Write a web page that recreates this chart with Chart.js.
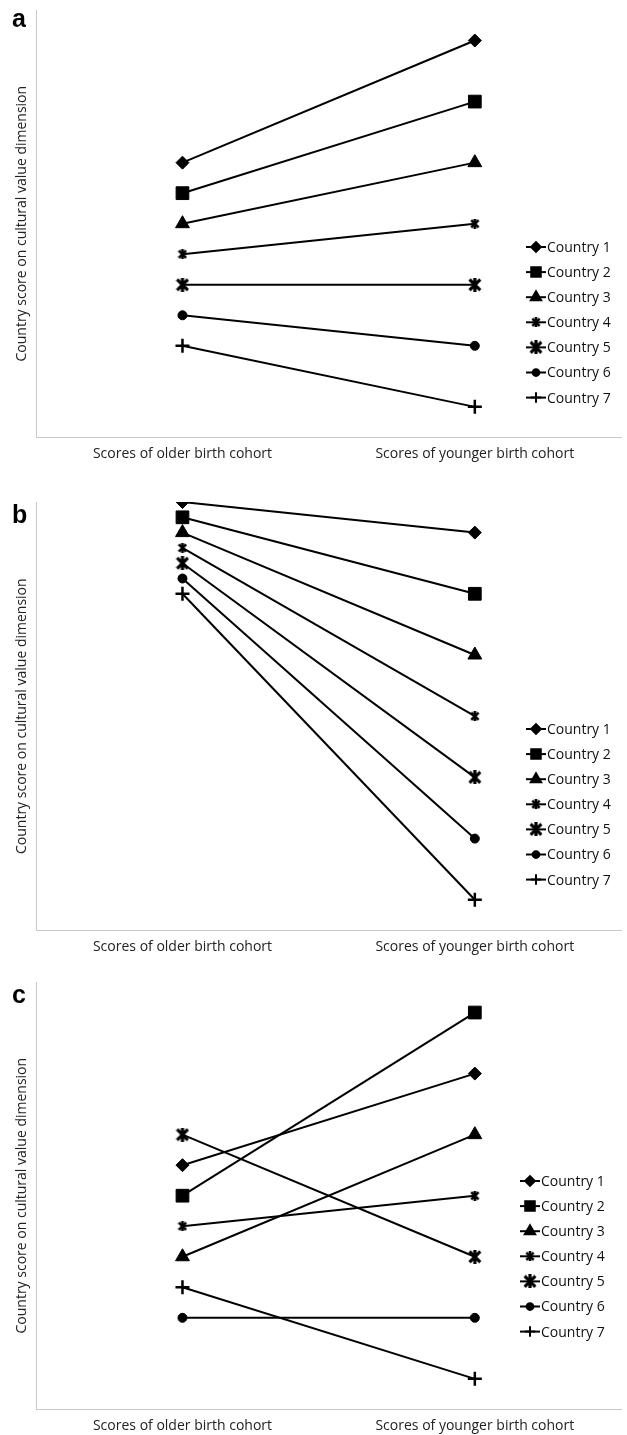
<!DOCTYPE html>
<html>
<head>
<meta charset="utf-8">
<script src="https://cdn.jsdelivr.net/npm/chart.js@4/dist/chart.umd.min.js"></script>
<style>
  html, body { margin: 0; padding: 0; background: #fff; }
  #page { position: relative; width: 627px; height: 1435px; overflow: hidden; }
  .panel { position: absolute; left: 0; width: 631px; }
  .letra { position: absolute; left: 12px; font: bold 25px "Liberation Sans", Arial, sans-serif; color: #000; }
</style>
</head>
<body>
<div id="page">
  <div class="panel" style="top:0;height:472px"><canvas id="grafico-a"></canvas></div>
  <div class="panel" style="top:480px;height:485px"><canvas id="grafico-b"></canvas></div>
  <div class="panel" style="top:958px;height:486px"><canvas id="grafico-c"></canvas></div>
  <div class="letra" style="top:4px">a</div>
  <div class="letra" style="top:500px">b</div>
  <div class="letra" style="top:980px">c</div>
</div>
<script>
// === Datos ===
const categorias = ["Scores of older birth cohort", "Scores of younger birth cohort"];
const paises = ["Country 1", "Country 2", "Country 3", "Country 4", "Country 5", "Country 6", "Country 7"];

// panel a: parallel growth
const mayoresA = [9, 8, 7, 6, 5, 4, 3];
const jovenesA = [13, 11, 9, 7, 5, 3, 1];
// panel b: all decline
const mayoresB = [14, 13.5, 13, 12.5, 12, 11.5, 11];
const jovenesB = [13, 11, 9, 7, 5, 3, 1];
// panel c: crossing
const mayoresC = [8, 7, 5, 6, 9, 3, 4];
const jovenesC = [11, 13, 9, 7, 5, 3, 1];

const yMin = 0;
const yMax = 14;

// === Marcadores tipo asterisco (como Excel) ===
function asterisco(tam, grosor) {
  const c = document.createElement("canvas");
  c.width = tam;
  c.height = tam;
  const g = c.getContext("2d");
  const m = grosor / 2;
  g.strokeStyle = "#000";
  g.lineWidth = grosor;
  g.lineCap = "butt";
  g.beginPath();
  g.moveTo(m, m); g.lineTo(tam - m, tam - m);
  g.moveTo(tam - m, m); g.lineTo(m, tam - m);
  g.moveTo(tam / 2, 0); g.lineTo(tam / 2, tam);
  g.stroke();
  return c;
}

const estilos = ["rectRot", "rect", "triangle", asterisco(10, 2.6), asterisco(14, 3.2), "circle", "cross"];
const radios = [6.5, 9, 8, 5, 7, 4.5, 7];
const bordes = [1, 1, 1, 1, 1, 1, 2.5];

const fuente = "'Open Sans', 'Liberation Sans', sans-serif";

// === Leyenda encima del área del gráfico ===
const leyendaFlotante = {
  id: "leyendaFlotante",
  afterDraw(chart, args, opts) {
    const ctx = chart.ctx;
    ctx.save();
    ctx.font = `14px ${fuente}`;
    ctx.textBaseline = "middle";
    chart.data.datasets.forEach((ds, i) => {
      const y = opts.y + i * opts.gap;
      ctx.strokeStyle = "#000";
      ctx.fillStyle = "#000";
      ctx.lineWidth = 2;
      ctx.beginPath();
      ctx.moveTo(opts.x, y);
      ctx.lineTo(opts.x + 20, y);
      ctx.stroke();
      Chart.helpers.drawPoint(ctx, {
        pointStyle: ds.pointStyle,
        radius: ds.pointRadius * 0.75,
        borderWidth: ds.pointBorderWidth,
        rotation: 0
      }, opts.x + 10, y);
      ctx.fillStyle = "#111";
      ctx.fillText(ds.label, opts.x + 21, y + 1);
    });
    ctx.restore();
  }
};

function dibujarPanel(id, mayores, jovenes, pad, leyenda) {
  const ctx = document.getElementById(id).getContext("2d");
  return new Chart(ctx, {
    type: "line",
    data: {
      labels: categorias,
      datasets: paises.map((p, i) => ({
        label: p,
        data: [mayores[i], jovenes[i]],
        borderColor: "#000",
        backgroundColor: "#000",
        borderWidth: 2,
        pointStyle: estilos[i],
        pointRadius: radios[i],
        pointBorderWidth: bordes[i],
        pointBackgroundColor: "#000",
        pointBorderColor: "#000",
        tension: 0
      }))
    },
    options: {
      responsive: true,
      maintainAspectRatio: false,
      animation: false,
      layout: { padding: pad },
      plugins: {
        legend: { display: false },
        tooltip: { enabled: false },
        leyendaFlotante: leyenda
      },
      scales: {
        x: {
          offset: true,
          grid: { display: false, tickLength: 0 },
          border: { color: "#c8c8c8", width: 1 },
          ticks: { color: "#222", font: { size: 14, family: fuente }, padding: 8.6 }
        },
        y: {
          min: yMin,
          max: yMax,
          grid: { display: false, tickLength: 0 },
          border: { color: "#c8c8c8", width: 1 },
          ticks: { display: false },
          title: {
            display: true,
            text: "Country score on cultural value dimension",
            color: "#222",
            font: { size: 14, family: fuente },
            padding: { top: 4, bottom: 5.5 }
          }
        }
      }
    },
    plugins: [leyendaFlotante]
  });
}

dibujarPanel("grafico-a", mayoresA, jovenesA, { top: 10, left: 10, right: 0, bottom: 0.6 }, { x: 526, y: 247, gap: 25.1 });
dibujarPanel("grafico-b", mayoresB, jovenesB, { top: 22, left: 10, right: 0, bottom: 0.6 }, { x: 526, y: 249, gap: 25.1 });
dibujarPanel("grafico-c", mayoresC, jovenesC, { top: 24, left: 10, right: 0, bottom: 0.6 }, { x: 520, y: 223, gap: 25.1 });
</script>
</body>
</html>
